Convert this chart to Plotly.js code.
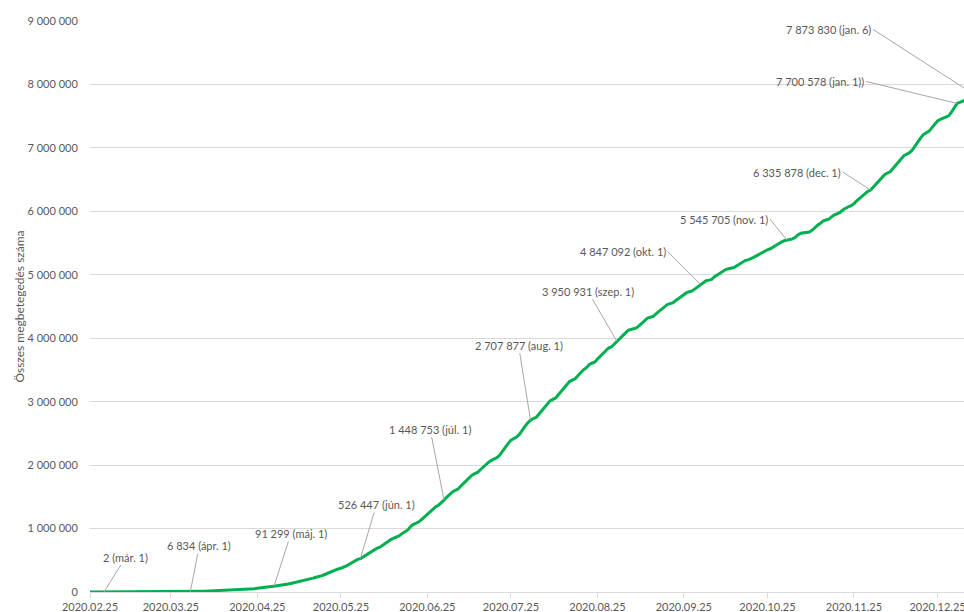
<!DOCTYPE html>
<html><head><meta charset="utf-8">
<script src="https://cdn.plot.ly/plotly-3.0.1.min.js"></script>
<style>html,body{margin:0;padding:0;overflow:hidden;background:#fff}</style>
</head><body><div id="chart" style="width:980px;height:612px"></div>
<script>
// Cumulative cases, daily, starting 2020-02-25
const feb = [0, 1, 1, 1, 2];
const mar = [2, 2, 2, 3, 8, 13, 19, 25, 25, 34, 52, 77, 98, 121, 200, 234, 291, 428, 621, 904, 1128, 1546, 1891, 2201, 2433, 2915, 3417, 3904, 4256, 4579, 5717];
const apr = [6834, 7910, 9056, 10278, 11130, 12056, 13717, 15927, 17857, 19638, 20727, 22169, 23430, 25262, 28320, 30425, 33682, 36599, 38654, 40581, 43079, 45757, 49492, 52995, 58509, 61888, 66501, 71886, 78162, 85380];
const may = [91299, 96396, 101147, 107780, 114715, 125218, 135106, 145328, 155939, 162699, 168331, 177589, 188974, 202918, 218223, 233142, 241080, 254220, 271628, 291579, 310087, 330890, 347398, 363211, 374898, 391222, 411821, 438238, 465166, 498440, 514849];
const jun = [526447, 555383, 584016, 614941, 645771, 672846, 691758, 707412, 739503, 772416, 802828, 828810, 850514, 867624, 888271, 923189, 955377, 978142, 1032913, 1067579, 1085038, 1106470, 1145906, 1188631, 1228114, 1274974, 1313667, 1344143, 1368195, 1402041];
const jul = [1448753, 1496858, 1539081, 1577004, 1603055, 1623284, 1668589, 1713160, 1755779, 1800827, 1839850, 1864681, 1884967, 1926824, 1966748, 2012151, 2046328, 2074860, 2098389, 2118646, 2159654, 2227514, 2287475, 2343366, 2394513, 2419091, 2442375, 2483191, 2552265, 2610102, 2662485];
const aug = [2707877, 2733677, 2750318, 2801921, 2859073, 2912212, 2962442, 3012412, 3035422, 3057470, 3109630, 3164785, 3224876, 3275520, 3317096, 3340197, 3359570, 3407354, 3456652, 3501975, 3532330, 3582362, 3605783, 3622861, 3669995, 3717156, 3761391, 3804803, 3846153, 3862311, 3908272];
const sep = [3950931, 3997865, 4041638, 4091801, 4123000, 4137521, 4147794, 4162073, 4197889, 4238446, 4282164, 4315687, 4330455, 4345610, 4382263, 4419083, 4455386, 4495183, 4528240, 4544629, 4558040, 4591364, 4624885, 4657702, 4689613, 4717991, 4732309, 4745464, 4777522, 4810935];
const oct = [4847092, 4880523, 4906833, 4915289, 4927235, 4969141, 5000694, 5028444, 5055888, 5082637, 5094979, 5103408, 5113628, 5140863, 5169386, 5200300, 5224362, 5235344, 5250727, 5273954, 5298772, 5323630, 5353656, 5380635, 5394128, 5409854, 5439641, 5468270, 5494376, 5516658, 5535605];
const nov = [5545705, 5554206, 5566049, 5590025, 5631181, 5653561, 5664115, 5675032, 5675032, 5700044, 5747660, 5781582, 5810652, 5848959, 5863093, 5876464, 5911758, 5945849, 5962000, 5981767, 6020164, 6052786, 6071401, 6087608, 6118708, 6166606, 6204220, 6238350, 6290272, 6314740];
const dec = [6335878, 6386787, 6436650, 6487084, 6533968, 6577177, 6603540, 6623911, 6674999, 6728452, 6781799, 6836227, 6880127, 6901952, 6927145, 6970034, 7040608, 7110434, 7162978, 7213155, 7238600, 7263619, 7318821, 7365517, 7423945, 7448560, 7465806, 7484285, 7504833, 7563551, 7640000];
const jan = [7700578, 7716405, 7733746, 7753752, 7810400, 7873830];

const tickLabels = ['2020.02.25','2020.03.25','2020.04.25','2020.05.25','2020.06.25','2020.07.25','2020.08.25','2020.09.25','2020.10.25','2020.11.25','2020.12.25'];
const labelDates = ['2020-03-01','2020-04-01','2020-05-01','2020-06-01','2020-07-01','2020-08-01','2020-09-01','2020-10-01','2020-11-01','2020-12-01','2021-01-01','2021-01-06'];
const labelTexts = ['2 (már. 1)','6 834 (ápr. 1)','91 299 (máj. 1)','526 447 (jún. 1)','1 448 753 (júl. 1)','2 707 877 (aug. 1)','3 950 931 (szep. 1)','4 847 092 (okt. 1)','5 545 705 (nov. 1)','6 335 878 (dec. 1)','7 700 578 (jan. 1))','7 873 830 (jan. 6)'];

const values = [].concat(feb, mar, apr, may, jun, jul, aug, sep, oct, nov, dec, jan);
const dates = values.map((_, i) => new Date(Date.UTC(2020, 1, 25 + i)).toISOString().slice(0, 10));

// label placement (pixel offsets of the label from its point)
const place = [
  {ax: 22, ay: -35, xa: 'center'},
  {ax: 9, ay: -46, xa: 'center'},
  {ax: 17, ay: -53, xa: 'center'},
  {ax: 16, ay: -54, xa: 'center'},
  {ax: -14, ay: -71, xa: 'center'},
  {ax: -12, ay: -75, xa: 'center'},
  {ax: -29, ay: -50, xa: 'center'},
  {ax: -33, ay: -33, xa: 'right'},
  {ax: -17, ay: -21, xa: 'right'},
  {ax: -28, ay: -18, xa: 'right'},
  {ax: -91, ay: -22, xa: 'right'},
  {ax: -98, ay: -63, xa: 'right'}
];

const FONT = 'Lato, "Open Sans", sans-serif';
const TXT = '#595959';

const annotations = labelDates.map((d, i) => ({
  x: d, y: values[dates.indexOf(d)], xref: 'x', yref: 'y',
  text: labelTexts[i], showarrow: true, arrowhead: 0, arrowwidth: 1, arrowcolor: '#a6a6a6',
  ax: place[i].ax, ay: place[i].ay, axref: 'pixel', ayref: 'pixel',
  xanchor: place[i].xa, yanchor: 'middle', standoff: 0, startstandoff: 0,
  font: {family: FONT, size: 11, color: TXT}, borderpad: 1
}));

const trace = {
  x: dates, y: values, type: 'scatter', mode: 'lines',
  line: {color: '#00b050', width: 3, shape: 'linear'},
  hoverinfo: 'x+y'
};

const layout = {
  width: 980, height: 612,
  margin: {l: 90, r: 9, t: 21, b: 20, pad: 0},
  paper_bgcolor: '#fff', plot_bgcolor: '#fff',
  separators: ', ',
  font: {family: FONT, size: 11, color: TXT},
  showlegend: false,
  xaxis: {
    type: 'date', range: ['2020-02-25', '2021-01-06'],
    tickvals: tickLabels.map(t => t.replace(/\./g, '-')), ticktext: tickLabels,
    showgrid: false, showline: true, linecolor: '#d9d9d9', linewidth: 1,
    ticks: 'outside', ticklen: 5, tickcolor: '#d9d9d9', tickwidth: 1,
    tickfont: {family: FONT, size: 11, color: TXT}, zeroline: false, automargin: false
  },
  yaxis: {
    range: [0, 9000000], dtick: 1000000, tick0: 0, tickformat: ',d',
    showgrid: true, gridcolor: '#d9d9d9', gridwidth: 1, zeroline: false, showline: false,
    ticks: 'outside', ticklen: 9, tickcolor: 'rgba(0,0,0,0)',
    tickfont: {family: FONT, size: 11, color: TXT}, automargin: false,
    title: {text: 'Összes megbetegedés száma', font: {family: FONT, size: 12, color: TXT}, standoff: 0}
  },
  annotations: annotations
};

Plotly.newPlot('chart', [trace], layout, {displayModeBar: false, staticPlot: true});
</script></body></html>
